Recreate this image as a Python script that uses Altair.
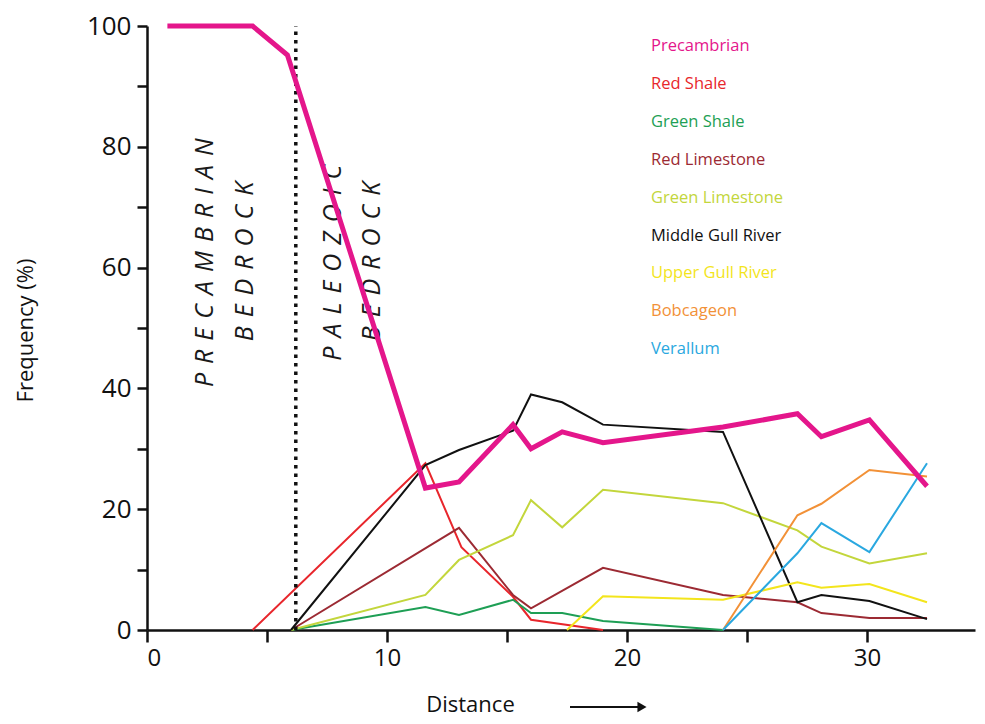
import altair as alt
import pandas as pd

# ---- data ----
series_names = ["Precambrian", "Red Shale", "Green Shale", "Red Limestone", "Green Limestone",
                "Middle Gull River", "Upper Gull River", "Bobcageon", "Verallum"]
series_colors = ["#e4168b", "#e8262c", "#1e9f55", "#9c2a33", "#c3d63c",
                 "#111111", "#f3e51c", "#f29137", "#2aa8e0"]

precambrian_x = [0.85, 4.4, 5.85, 11.6, 13.0, 15.25, 16.0, 17.3, 19.0, 24.0, 27.1, 28.1, 30.1, 32.5]
precambrian_y = [100, 100, 95.2, 23.5, 24.5, 34.0, 30.0, 32.8, 31.0, 33.6, 35.8, 32.0, 34.8, 23.8]

red_shale_x = [4.4, 11.6, 13.1, 15.25, 16.0, 19.0]
red_shale_y = [0, 27.6, 13.7, 5.5, 1.7, 0]

green_shale_x = [6.0, 11.6, 13.0, 15.25, 16.0, 17.3, 19.0, 24.0]
green_shale_y = [0, 3.8, 2.5, 5.0, 2.8, 2.8, 1.5, 0]

red_limestone_x = [6.0, 13.0, 15.25, 16.0, 19.0, 24.0, 27.1, 28.1, 30.1, 32.5]
red_limestone_y = [0, 16.9, 5.8, 3.6, 10.3, 5.8, 4.6, 2.8, 2.0, 2.0]

green_limestone_x = [6.0, 11.6, 13.0, 15.25, 16.0, 17.3, 19.0, 24.0, 27.1, 28.1, 30.1, 32.5]
green_limestone_y = [0, 5.8, 11.6, 15.7, 21.5, 17.0, 23.2, 21.0, 16.5, 13.8, 11.0, 12.7]

middle_gull_x = [6.0, 11.6, 13.0, 15.25, 16.0, 17.3, 19.0, 24.0, 27.1, 28.1, 30.1, 32.5]
middle_gull_y = [0, 27.3, 29.8, 33.0, 39.0, 37.7, 34.0, 32.8, 4.6, 5.8, 4.8, 1.8]

upper_gull_x = [17.5, 19.0, 24.0, 27.1, 28.1, 30.1, 32.5]
upper_gull_y = [0, 5.6, 5.0, 7.9, 7.0, 7.6, 4.6]

bobcageon_x = [24.0, 27.1, 28.1, 30.1, 32.5]
bobcageon_y = [0, 19.0, 20.9, 26.5, 25.4]

verallum_x = [24.0, 27.1, 28.1, 30.1, 32.5]
verallum_y = [0, 12.7, 17.7, 12.9, 27.6]

boundary_x = 6.2

SP = " \u200a"
annotation_texts = [SP.join("PRECAMBRIAN"), SP.join("BEDROCK"),
                    SP.join("PALEOZOIC"), SP.join("BEDROCK")]
annotation_x = [2.42, 4.08, 7.75, 9.37]
annotation_y = [60.8, 61.0, 60.8, 61.0]

all_x = [precambrian_x, red_shale_x, green_shale_x, red_limestone_x, green_limestone_x,
         middle_gull_x, upper_gull_x, bobcageon_x, verallum_x]
all_y = [precambrian_y, red_shale_y, green_shale_y, red_limestone_y, green_limestone_y,
         middle_gull_y, upper_gull_y, bobcageon_y, verallum_y]

rows = []
for name, xs, ys in zip(series_names, all_x, all_y):
    for i, (xv, yv) in enumerate(zip(xs, ys)):
        rows.append({"series": name, "distance": xv, "freq": yv, "i": i})
df = pd.DataFrame(rows)

FONT = "Open Sans"

x_scale = alt.Scale(domain=[0, 34.5], nice=False, zero=False)
y_scale = alt.Scale(domain=[0, 100], nice=False)
color_scale = alt.Scale(domain=series_names, range=series_colors)

x_axis = alt.Axis(
    values=list(range(0, 35, 5)),
    labelExpr="datum.value % 10 == 0 ? datum.label : ''",
    tickSize=12, tickWidth=2.5, domainWidth=2.5, domainColor="#111", tickColor="#111",
    labelFontSize=24, labelFont=FONT, labelColor="#111", labelPadding=4,
    grid=False, title="Distance", titleFont=FONT, titleFontSize=22, titleFontWeight="normal",
    titleColor="#111", titleX=323, titleY=74, titleAlign="center", titleBaseline="middle",
)
y_axis = alt.Axis(
    values=list(range(0, 101, 10)),
    labelExpr="datum.value % 20 == 0 ? datum.label : ''",
    tickSize=10, tickWidth=2.5, domainWidth=2.5, domainColor="#111", tickColor="#111",
    labelFontSize=26, labelFont=FONT, labelColor="#111", labelPadding=6,
    grid=False, title="Frequency (%)", titleFont=FONT, titleFontSize=22, titleFontWeight="normal",
    titleColor="#111", titleX=-122, titleY=304, titleAngle=270, titleAlign="center",
    titleBaseline="middle",
)

base = alt.Chart(df)

thin = base.transform_filter(alt.datum.series != "Precambrian").mark_line(strokeWidth=2).encode(
    x=alt.X("distance:Q", scale=x_scale, axis=x_axis),
    y=alt.Y("freq:Q", scale=y_scale, axis=y_axis),
    color=alt.Color("series:N", scale=color_scale, legend=None),
    order="i:Q",
)
thick = base.transform_filter(alt.datum.series == "Precambrian").mark_line(strokeWidth=5).encode(
    x=alt.X("distance:Q", scale=x_scale),
    y=alt.Y("freq:Q", scale=y_scale),
    color=alt.Color("series:N", scale=color_scale, legend=None),
    order="i:Q",
)

boundary = alt.Chart(pd.DataFrame({"x": [boundary_x], "y": [0], "y2": [100]})).mark_rule(
    color="#111", strokeWidth=3.5, strokeDash=[3.5, 5]
).encode(x=alt.X("x:Q", scale=x_scale), y=alt.Y("y:Q", scale=y_scale), y2="y2:Q")

ann_df = pd.DataFrame({"t": annotation_texts, "x": annotation_x, "y": annotation_y})
annotations = alt.Chart(ann_df).mark_text(
    angle=270, font=FONT, fontSize=25, fontStyle="italic", fontWeight="normal", color="#1a1a1a",
    align="center", baseline="middle"
).encode(x=alt.X("x:Q", scale=x_scale), y=alt.Y("y:Q", scale=y_scale), text="t:N")

legend_layers = []
for i, (name, col) in enumerate(zip(series_names, series_colors)):
    legend_layers.append(
        alt.Chart(pd.DataFrame({"name": [name]})).mark_text(
            font=FONT, fontSize=16.5, align="left", baseline="middle", color=col
        ).encode(x=alt.value(504), y=alt.value(20 + i * 37.9), text="name:N")
    )

dummy = pd.DataFrame({"a": [0]})
arrow_shaft = alt.Chart(dummy).mark_rule(color="#111", strokeWidth=2).encode(
    x=alt.value(423), x2=alt.value(492), y=alt.value(681)
)
arrow_head = alt.Chart(dummy).mark_point(shape="triangle-right", filled=True, size=110,
                                          color="#111", opacity=1).encode(
    x=alt.value(495), y=alt.value(681)
)

chart = alt.layer(thin, boundary, annotations, thick, arrow_shaft, arrow_head, *legend_layers).properties(
    width=828, height=604,
    padding={"left": 139, "top": 18, "right": 2, "bottom": 86},
    autosize=alt.AutoSizeParams(type="none"),
).configure_view(stroke=None)

chart.save("out.html", embed_options={"renderer": "svg", "actions": False})
